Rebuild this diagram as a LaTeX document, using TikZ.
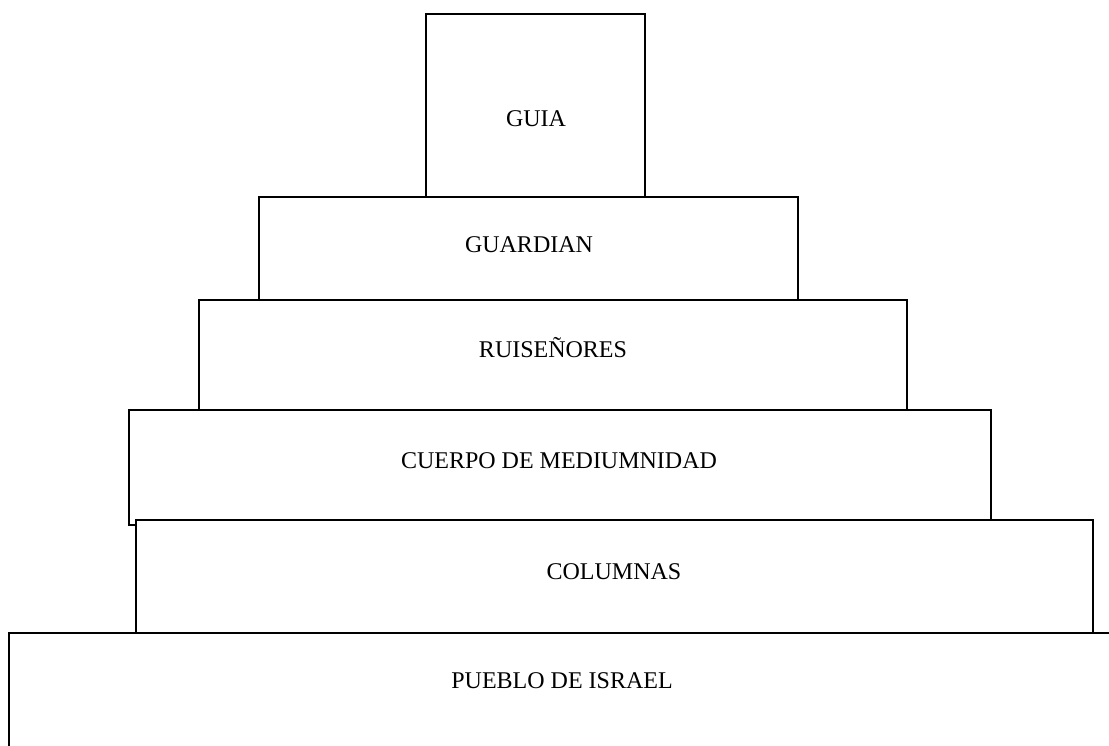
\documentclass[tikz,border=0pt]{standalone}
\usepackage{fontspec}
\setmainfont{Liberation Serif}
\usepackage{tikz}
\usepackage{xcolor}

\tikzset{
  tier/.style={draw=black, fill=white, line width=1.6pt, rectangle, anchor=north west, inner sep=0pt},
  tiertext/.style={anchor=base, inner sep=0pt, font=\fontsize{24}{28}\selectfont}
}

\begin{document}
\begin{tikzpicture}[x=1pt, y=-1pt]
			\useasboundingbox (0,0) rectangle (1109,745);
			\clip (0,0) rectangle (1109,745);
			\fill[white] (0,0) rectangle (1109,745);
			
			% tiers, top first so the lower ones cover the shared edges
			\foreach \nm/\xa/\ya/\xb/\yb in {guia/426/14/645/197, guardian/259/197/798/300, ruisenores/199/300/907/410, cuerpo/129/410/991/525, columnas/136/520/1093/633, pueblo/9/633/1125/765} {
				\pgfmathsetmacro{\w}{\xb-\xa}
				\pgfmathsetmacro{\h}{\yb-\ya}
				\node[tier, minimum width=\w pt, minimum height=\h pt] (\nm) at (\xa-0.8,\ya-0.8) {};
			}
			
			\node[tiertext] (guia-t) at (536,126) {GUIA};
			\node[tiertext] (guardian-t) at (529,252) {GUARDIAN};
			\node[tiertext] (ruisenores-t) at (553,357) {RUISEÑORES};
			\node[tiertext] (cuerpo-t) at (559,468) {CUERPO DE MEDIUMNIDAD};
			\node[tiertext] (columnas-t) at (614,579) {COLUMNAS};
			\node[tiertext] (pueblo-t) at (562,688) {PUEBLO DE ISRAEL};
		\end{tikzpicture}
\end{document}
